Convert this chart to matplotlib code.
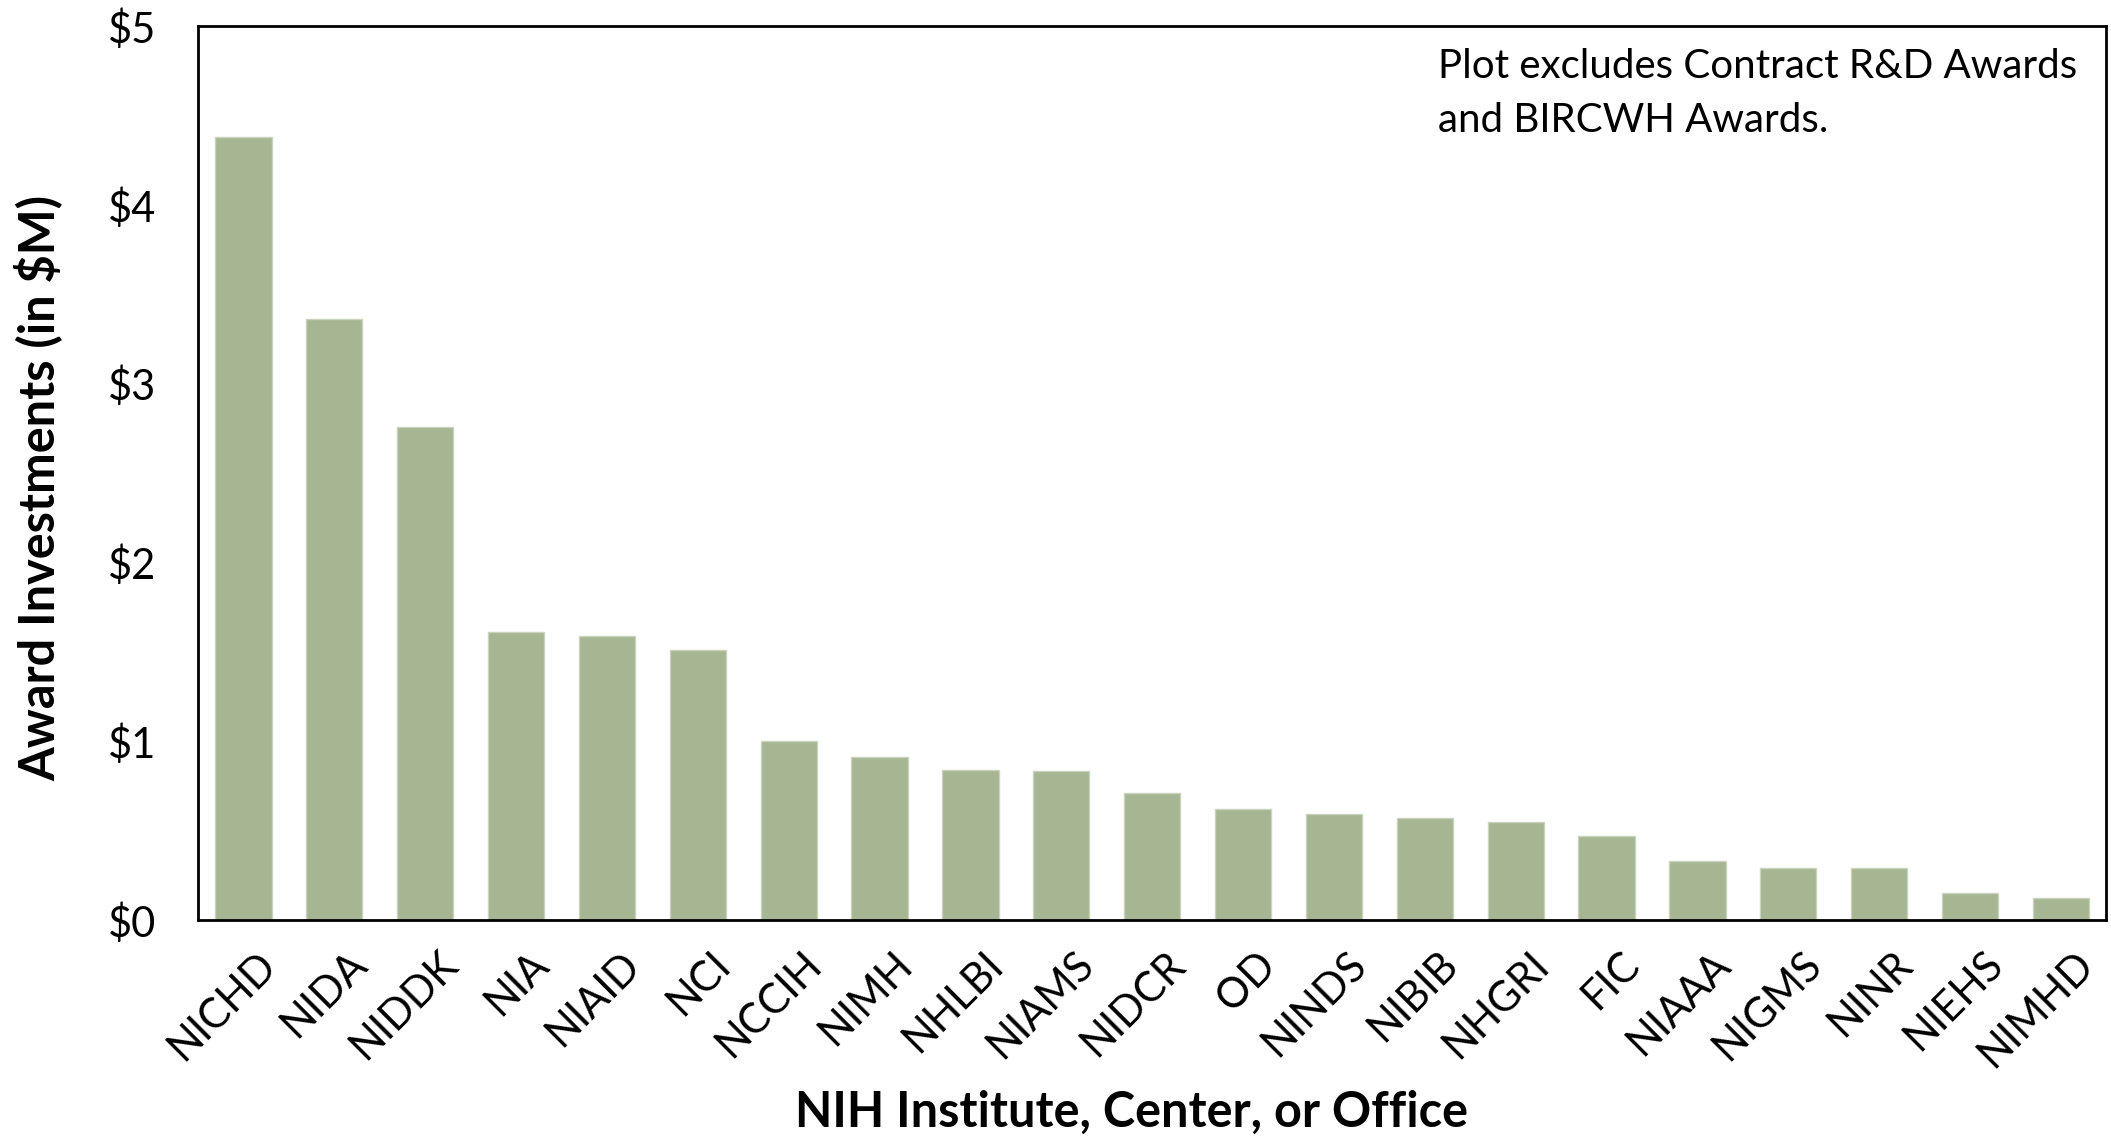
import matplotlib.pyplot as plt
import matplotlib.transforms as mtransforms

plt.rcParams['font.family'] = ['Lato', 'DejaVu Sans']

institutes = ["NICHD", "NIDA", "NIDDK", "NIA", "NIAID", "NCI", "NCCIH", "NIMH",
              "NHLBI", "NIAMS", "NIDCR", "OD", "NINDS", "NIBIB", "NHGRI", "FIC",
              "NIAAA", "NIGMS", "NINR", "NIEHS", "NIMHD"]
awards = [4.38, 3.36, 2.76, 1.61, 1.59, 1.51, 1.00, 0.91, 0.84, 0.83, 0.71,
          0.62, 0.59, 0.57, 0.55, 0.47, 0.33, 0.29, 0.29, 0.15, 0.12]
yticks = [0, 1, 2, 3, 4, 5]
ytick_labels = ["$0", "$1", "$2", "$3", "$4", "$5"]
note = "Plot excludes Contract R&D Awards\nand BIRCWH Awards."

fig = plt.figure(figsize=(21.11, 11.37), dpi=100)
ax = fig.add_axes([0.0938, 0.191, 0.904, 0.786])

x = range(len(institutes))
ax.bar(x, awards, width=0.62, color="#A6B592", edgecolor="#C9D3BD", linewidth=1)

ax.set_xlim(-0.5, len(institutes) - 0.5)
ax.set_ylim(0, 5)
ax.set_yticks(yticks)
ax.set_yticklabels(ytick_labels, fontsize=30)
ax.set_xticks(list(x))
ax.set_xticklabels(institutes, fontsize=30, rotation=45, ha="right", va="top",
                   rotation_mode="anchor")
ax.tick_params(axis="y", length=0, pad=30)
ax.tick_params(axis="x", length=0, pad=18)
# nudge the rotated labels to the right like the original
shift = mtransforms.ScaledTranslation(13 / 100, 0, fig.dpi_scale_trans)
for lbl in ax.get_xticklabels():
    lbl.set_transform(lbl.get_transform() + shift)

for sp in ax.spines.values():
    sp.set_linewidth(2)
    sp.set_color("black")

ax.set_ylabel("Award Investments (in $M)", fontsize=35, fontweight="bold")
ax.set_xlabel("NIH Institute, Center, or Office", fontsize=35, fontweight="bold")
ax.yaxis.set_label_coords(-0.071, 0.483)
ax.xaxis.set_label_coords(0.489, -0.19)

ax.text(0.65, 0.975, note, transform=ax.transAxes, fontsize=29, va="top", ha="left",
        linespacing=1.55)

fig.savefig("out.png", dpi=100)
